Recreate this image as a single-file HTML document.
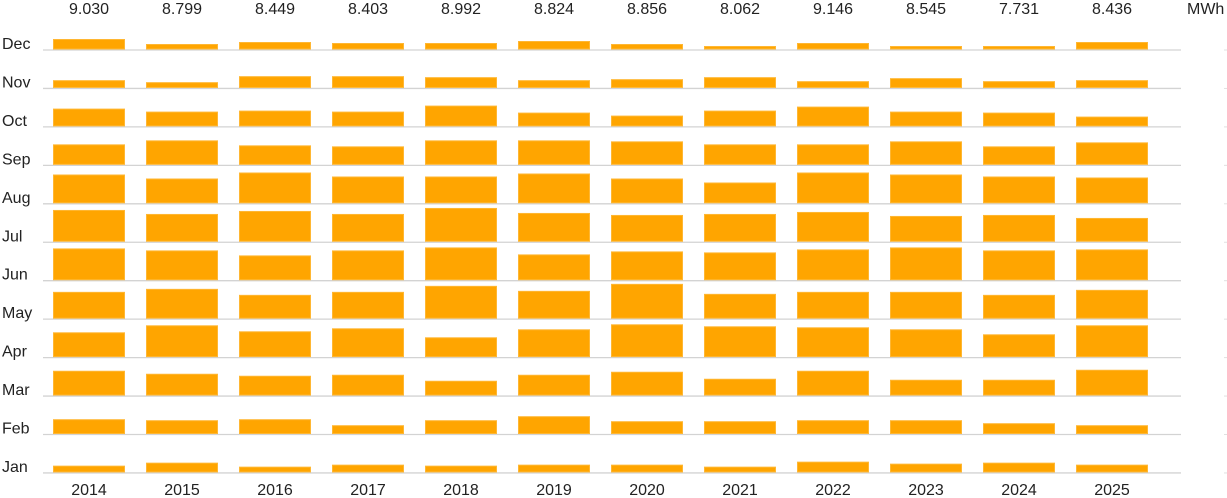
<!DOCTYPE html>
<html><head><meta charset="utf-8"><style>
body{margin:0;background:#fff;}
svg{display:block;font-family:"Liberation Sans",Arial,sans-serif;}
</style></head><body>
<svg id="c" width="1227" height="498" xmlns="http://www.w3.org/2000/svg"></svg>
<script>
var s=document.getElementById('c'),h='';
var months=['Dec','Nov','Oct','Sep','Aug','Jul','Jun','May','Apr','Mar','Feb','Jan'];
var totals=['9.030','8.799','8.449','8.403','8.992','8.824','8.856','8.062','9.146','8.545','7.731','8.436'];
var H=[
[11,6,8,7,7,9,6,4,7,4,4,8],
[8.3,6.3,12.3,12.3,11.3,8.3,9.3,11.3,7.3,10.3,7.3,8.3],
[18.3,15.3,16.3,15.3,21.3,14.3,11.3,16.3,20.3,15.3,14.3,10.3],
[21,25,20,19,25,25,24,21,21,24,19,23],
[29.3,25.3,31.3,27.3,27.3,30.3,25.3,21.3,31.3,29.3,27.3,26.3],
[32.3,28.3,31.3,28.3,34.3,29.3,27.3,28.3,30.3,26.3,27.3,24.3],
[32.3,30.3,25.3,30.3,33.3,26.3,29.3,28.3,31.3,33.3,30.3,31.3],
[27.3,30.3,24.3,27.3,33.3,28.3,35.3,25.3,27.3,27.3,24.3,29.3],
[25.3,32.3,26.3,29.3,20.3,28.3,33.3,31.3,30.3,28.3,23.3,32.3],
[25.3,22.3,20.3,21.3,15.3,21.3,24.3,17.3,25.3,16.3,16.3,26.3],
[15.3,14.3,15.3,9.3,14.3,18.3,13.3,13.3,14.3,14.3,11.3,9.3],
[7.3,10.3,6.3,8.3,7.3,8.3,8.3,6.3,11.3,9.3,10.3,8.3]];
for(var i=0;i<12;i++){
 var g=50+i*38.45;
 h+='<line x1="43" x2="1181" y1="'+g+'" y2="'+g+'" stroke="#d3d3d3" stroke-width="1.3"/>';
 h+='<line x1="1224" x2="1227" y1="'+g+'" y2="'+g+'" stroke="#e0e0e0" stroke-width="1"/>';
 h+='<text x="2" y="'+(g-1)+'" font-size="16" fill="#222">'+months[i]+'</text>';
 for(var j=0;j<12;j++){
  var x=53+j*93,hh=H[i][j];
  h+='<rect x="'+(x+0.5)+'" y="'+(g-hh+0.5)+'" width="71" height="'+(hh-1.5)+'" fill="#FFA500" stroke="#FFB733" stroke-width="1"/>';
 }
}
for(var j=0;j<12;j++){
 var cx=89+j*93;
 h+='<text x="'+cx+'" y="14" font-size="16" fill="#222" text-anchor="middle">'+totals[j]+'</text>';
 h+='<text x="'+cx+'" y="495" font-size="16" fill="#222" text-anchor="middle">'+(2014+j)+'</text>';
}
h+='<text x="1187" y="14" font-size="16" fill="#222">MWh</text>';
s.innerHTML=h;
</script>
</body></html>
